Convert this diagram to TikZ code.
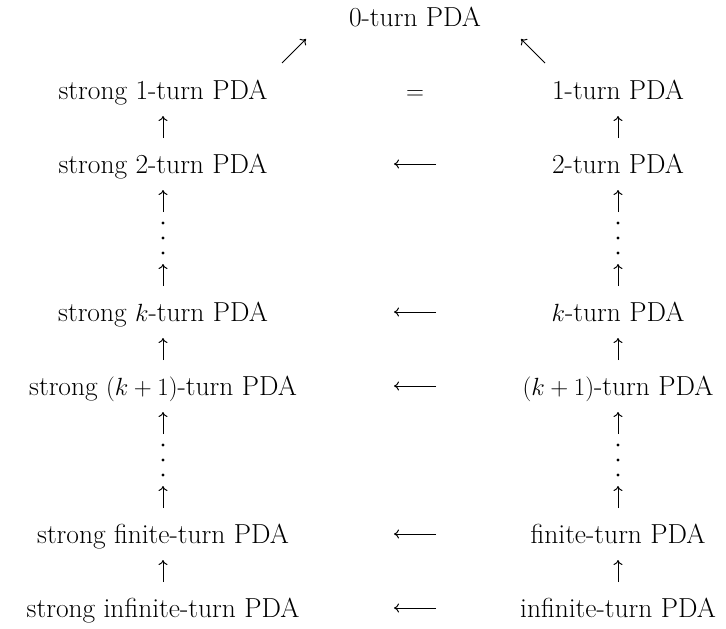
\documentclass[tikz,border=0pt]{standalone}
\usetikzlibrary{calc,arrows.meta}
\begin{document}
\begin{tikzpicture}[x=1pt,y=-1pt,
  lbl/.style={inner sep=0pt, text height=18.8pt, text depth=0pt, font=\fontsize{27.5}{33}\selectfont},
  dotsbox/.style={inner sep=0pt, minimum width=6pt, minimum height=36pt},
  arr/.style={-{Computer Modern Rightarrow[length=5pt,width=9pt]}, line width=1pt},
]
\useasboundingbox (0,0) rectangle (726,629);
\def\L{163}\def\R{618}\def\M{415}
\newcommand\vup[2]{\draw[arr] ($(#1)!.5!(#2)+(0,11)$) -- ($(#1)!.5!(#2)+(0,-11)$);}
\newcommand\hleft[1]{\draw[arr] ($(#1)+(21,0)$) -- ($(#1)+(-21,0)$);}
% nodes
\node[lbl] (t0) at (\M,17) {0-turn PDA};
\node[lbl] (s1) at (\L,90) {strong 1-turn PDA};
\node[lbl] (eq) at (\M,90) {$=$};
\node[lbl] (r1) at (\R,90) {1-turn PDA};
\node[lbl] (s2) at (\L,164) {strong 2-turn PDA};
\node[lbl] (r2) at (\R,164) {2-turn PDA};
\node[dotsbox] (vs1) at (\L,238) {};
\node[dotsbox] (vr1) at (\R,238) {};
\node[lbl] (sk) at (\L,312) {strong $k$-turn PDA};
\node[lbl] (rk) at (\R,312) {$k$-turn PDA};
\node[lbl] (sk1) at (\L,386) {strong $(k+1)$-turn PDA};
\node[lbl] (rk1) at (\R,386) {$(k+1)$-turn PDA};
\node[dotsbox] (vs2) at (\L,460) {};
\node[dotsbox] (vr2) at (\R,460) {};
\node[lbl] (sf) at (\L,534) {strong finite-turn PDA};
\node[lbl] (rf) at (\R,534) {finite-turn PDA};
\node[lbl] (si) at (\L,608) {strong infinite-turn PDA};
\node[lbl] (ri) at (\R,608) {infinite-turn PDA};
% dots
\foreach \n in {vs1,vr1,vs2,vr2}
  \foreach \d in {-15,0,15}
    \fill ($(\n)+(0,\d)$) circle (1.7);
% middle coordinates
\coordinate (m2) at (\M,164);
\coordinate (mk) at (\M,312);
\coordinate (mk1) at (\M,386);
\coordinate (mf) at (\M,534);
\coordinate (mi) at (\M,608);
\coordinate (d1) at (294,51);
\coordinate (d2) at (533,51);
% diagonal arrows
\draw[arr] ($(d1)+(-12,12)$) -- ($(d1)+(12,-12)$);
\draw[arr] ($(d2)+(12,12)$) -- ($(d2)+(-12,-12)$);
% vertical arrows
\vup{s2}{s1}\vup{vs1}{s2}\vup{sk}{vs1}\vup{sk1}{sk}\vup{vs2}{sk1}\vup{sf}{vs2}\vup{si}{sf}
\vup{r2}{r1}\vup{vr1}{r2}\vup{rk}{vr1}\vup{rk1}{rk}\vup{vr2}{rk1}\vup{rf}{vr2}\vup{ri}{rf}
% horizontal arrows
\hleft{m2}\hleft{mk}\hleft{mk1}\hleft{mf}\hleft{mi}
\end{tikzpicture}
\end{document}
